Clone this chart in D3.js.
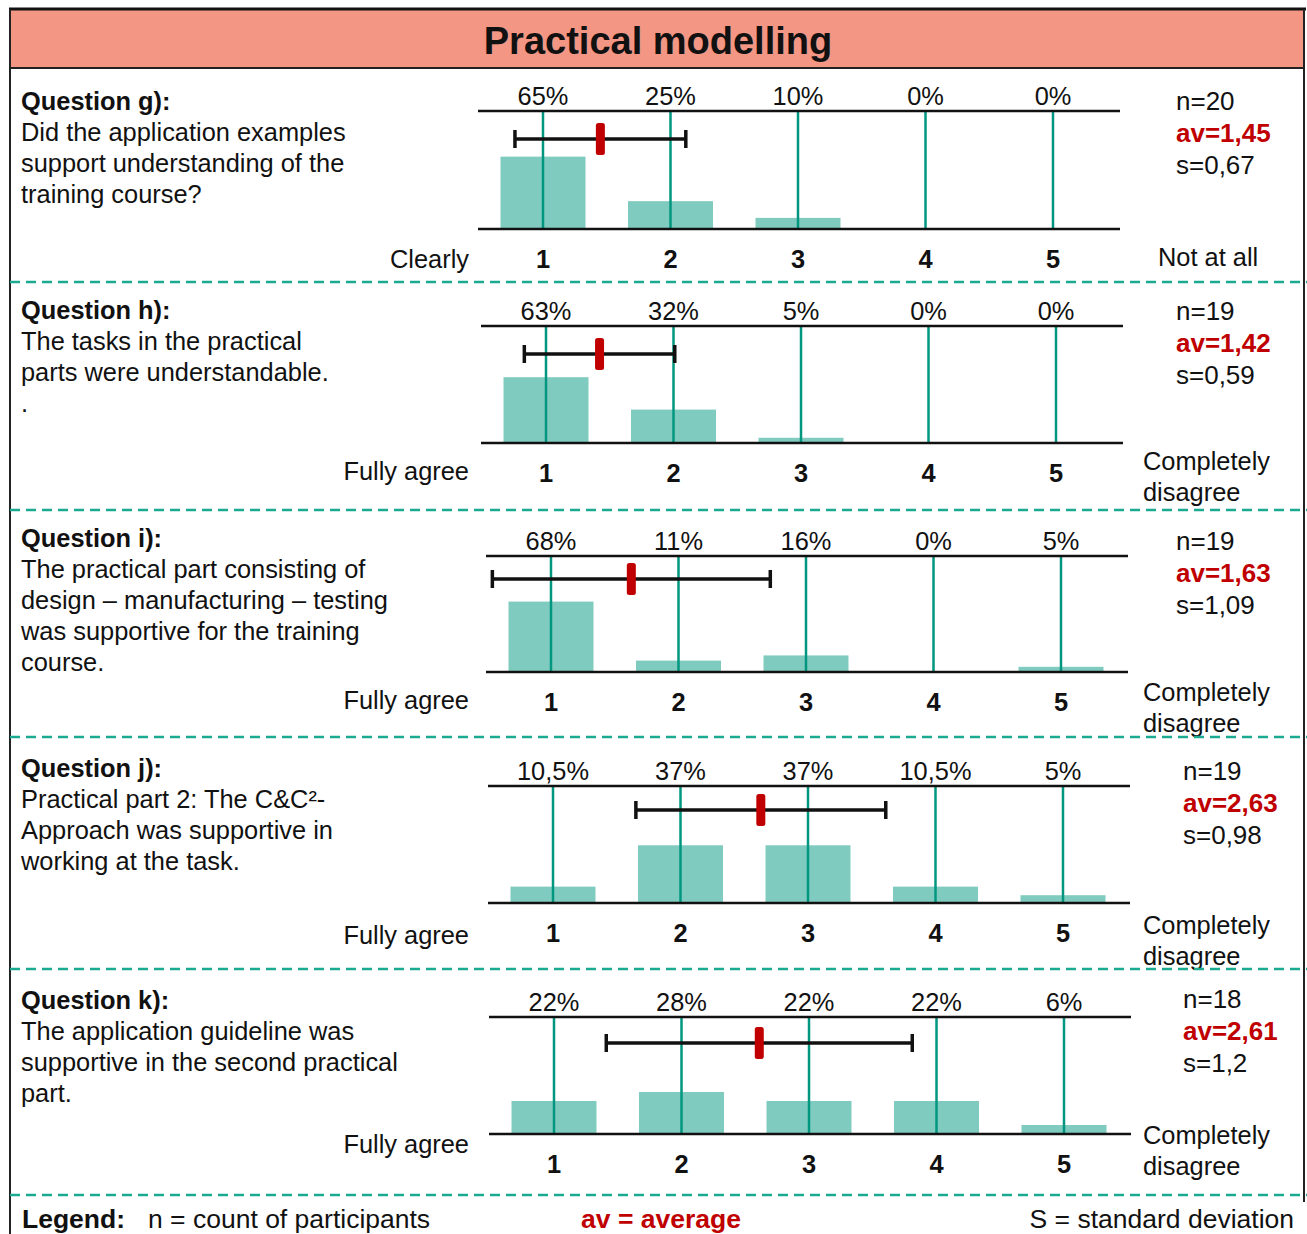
<!DOCTYPE html>
<html>
<head>
<meta charset="utf-8">
<script src="https://cdn.jsdelivr.net/npm/d3@7"></script>
<style>
  body { margin: 0; background: #fff; }
  text { font-family: "Liberation Sans", Arial, sans-serif; }
</style>
</head>
<body>
<div id="chart"></div>
<script>
// chart data
var title = "Practical modelling";
var categories = [1, 2, 3, 4, 5];
var questionTitles = ["Question g):", "Question h):", "Question i):", "Question j):", "Question k):"];
var questionLines = [
    ["Did the application examples", "support understanding of the", "training course?"],
    ["The tasks in the practical", "parts were understandable.", "."],
    ["The practical part consisting of", "design \u2013 manufacturing \u2013 testing", "was supportive for the training", "course."],
    ["Practical part 2: The C&C\u00b2-", "Approach was supportive in", "working at the task."],
    ["The application guideline was", "supportive in the second practical", "part."]
];
var percents = [
    [65, 25, 10, 0, 0],
    [63, 32, 5, 0, 0],
    [68, 11, 16, 0, 5],
    [10.5, 37, 37, 10.5, 5],
    [22, 28, 22, 22, 6]
];
var percentLabels = [
    ["65%", "25%", "10%", "0%", "0%"],
    ["63%", "32%", "5%", "0%", "0%"],
    ["68%", "11%", "16%", "0%", "5%"],
    ["10,5%", "37%", "37%", "10,5%", "5%"],
    ["22%", "28%", "22%", "22%", "6%"]
];
var counts = [20, 19, 19, 19, 18];
var averages = [1.45, 1.42, 1.63, 2.63, 2.61];
var deviations = [0.67, 0.59, 1.09, 0.98, 1.2];
var yMax = [106, 112, 112, 75, 78]; // percent at full bar height, per panel
var leftAnchors = ["Clearly", "Fully agree", "Fully agree", "Fully agree", "Fully agree"];
var rightAnchors = [["Not at all"], ["Completely", "disagree"], ["Completely", "disagree"], ["Completely", "disagree"], ["Completely", "disagree"]];
var legendItems = ["n = count of participants", "av = average", "S = standard deviation"];

// layout of each panel (pixel positions)
var layout = [
    { qY: 101, top: 111, bot: 229, x1: 543, ebY: 139, numY: 259, leftY: 259, statsX: 1176, statsY: 101, rightX: 1158, rightY: 257, sep: 282 },
    { qY: 310, top: 326, bot: 443, x1: 546, ebY: 354, numY: 473, leftY: 471, statsX: 1176, statsY: 311, rightX: 1143, rightY: 461, sep: 510 },
    { qY: 538, top: 556, bot: 672, x1: 551, ebY: 579, numY: 702, leftY: 700, statsX: 1176, statsY: 541, rightX: 1143, rightY: 692, sep: 737 },
    { qY: 768, top: 786, bot: 903, x1: 553, ebY: 810, numY: 933, leftY: 935, statsX: 1183, statsY: 771, rightX: 1143, rightY: 925, sep: 969 },
    { qY: 1000, top: 1017, bot: 1134, x1: 554, ebY: 1043, numY: 1164, leftY: 1144, statsX: 1183, statsY: 999, rightX: 1143, rightY: 1135, sep: 1195 }
];

var width = 1307, height = 1234;
var fs = 25.4;      // base font size
var base = 9;       // shift from visual centre to baseline
var step = 127.5;   // distance between categories
var barW = 85;

var svg = d3.select('#chart')
    .append('svg')
    .attr('width', width)
    .attr('height', height);

var comma = v => String(v).replace('.', ',');

// title band and frame
svg.append('rect')
    .attr('x', 10).attr('y', 9)
    .attr('width', 1294).attr('height', 59)
    .attr('fill', '#F39684');

svg.append('line')
    .attr('x1', 9).attr('x2', 1306).attr('y1', 9).attr('y2', 9)
    .attr('stroke', '#111').attr('stroke-width', 3);
svg.append('line')
    .attr('x1', 10).attr('x2', 1304).attr('y1', 68).attr('y2', 68)
    .attr('stroke', '#222').attr('stroke-width', 2);
svg.append('line')
    .attr('x1', 10).attr('x2', 10).attr('y1', 9).attr('y2', height)
    .attr('stroke', '#222').attr('stroke-width', 2);
svg.append('line')
    .attr('x1', 1304).attr('x2', 1304).attr('y1', 9).attr('y2', 1202)
    .attr('stroke', '#222').attr('stroke-width', 2);

svg.append('text')
    .attr('x', 658).attr('y', 41 + 13)
    .attr('text-anchor', 'middle')
    .style('font-size', '38px')
    .style('font-weight', 'bold')
    .style('fill', '#111')
    .text(title);

// one panel per question
layout.forEach(function (L, i) {
    var g = svg.append('g');

    var x = d3.scaleLinear()
        .domain([1, 5])
        .range([L.x1, L.x1 + 4 * step]);

    var y = d3.scaleLinear()
        .domain([0, yMax[i]])
        .range([L.bot, L.top]);

    // question text
    g.append('text')
        .attr('x', 21).attr('y', L.qY + base)
        .style('font-size', fs + 'px')
        .style('font-weight', 'bold')
        .style('fill', '#111')
        .text(questionTitles[i]);

    g.selectAll('.qline')
        .data(questionLines[i])
        .enter()
        .append('text')
        .attr('class', 'qline')
        .attr('x', 21)
        .attr('y', (d, k) => L.qY + 31 * (k + 1) + base)
        .style('font-size', fs + 'px')
        .style('fill', '#111')
        .text(d => d);

    // bars
    g.selectAll('.bar')
        .data(percents[i])
        .enter()
        .append('rect')
        .attr('class', 'bar')
        .attr('x', (d, k) => x(categories[k]) - barW / 2)
        .attr('width', barW)
        .attr('y', d => y(d))
        .attr('height', d => L.bot - y(d))
        .attr('fill', '#80CBC0');

    // vertical category lines
    g.selectAll('.vline')
        .data(categories)
        .enter()
        .append('line')
        .attr('class', 'vline')
        .attr('x1', d => x(d)).attr('x2', d => x(d))
        .attr('y1', L.top).attr('y2', L.bot)
        .attr('stroke', '#00967F')
        .attr('stroke-width', 2.5);

    // top and bottom lines
    [L.top, L.bot].forEach(function (yy) {
        g.append('line')
            .attr('x1', x(1) - 65).attr('x2', x(5) + 67)
            .attr('y1', yy).attr('y2', yy)
            .attr('stroke', '#111')
            .attr('stroke-width', 2.5);
    });

    // percent labels
    g.selectAll('.pct')
        .data(percentLabels[i])
        .enter()
        .append('text')
        .attr('class', 'pct')
        .attr('x', (d, k) => x(categories[k]))
        .attr('y', L.top - 15 + base)
        .attr('text-anchor', 'middle')
        .style('font-size', fs + 'px')
        .style('fill', '#111')
        .text(d => d);

    // category numbers
    g.selectAll('.num')
        .data(categories)
        .enter()
        .append('text')
        .attr('class', 'num')
        .attr('x', d => x(d))
        .attr('y', L.numY + base)
        .attr('text-anchor', 'middle')
        .style('font-size', fs + 'px')
        .style('font-weight', 'bold')
        .style('fill', '#111')
        .text(d => d);

    // scale end labels
    g.append('text')
        .attr('x', 469).attr('y', L.leftY + base)
        .attr('text-anchor', 'end')
        .style('font-size', fs + 'px')
        .style('fill', '#111')
        .text(leftAnchors[i]);

    g.selectAll('.ranchor')
        .data(rightAnchors[i])
        .enter()
        .append('text')
        .attr('class', 'ranchor')
        .attr('x', L.rightX)
        .attr('y', (d, k) => L.rightY + 31 * k + base)
        .style('font-size', fs + 'px')
        .style('fill', '#111')
        .text(d => d);

    // average +/- standard deviation
    var lo = averages[i] - deviations[i];
    var hi = averages[i] + deviations[i];
    g.append('line')
        .attr('x1', x(lo)).attr('x2', x(hi))
        .attr('y1', L.ebY).attr('y2', L.ebY)
        .attr('stroke', '#111').attr('stroke-width', 3.5);
    [lo, hi].forEach(function (v) {
        g.append('line')
            .attr('x1', x(v)).attr('x2', x(v))
            .attr('y1', L.ebY - 9).attr('y2', L.ebY + 9)
            .attr('stroke', '#111').attr('stroke-width', 3.5);
    });
    g.append('rect')
        .attr('x', x(averages[i]) - 4.5)
        .attr('y', L.ebY - 16)
        .attr('width', 9).attr('height', 32)
        .attr('rx', 2.5)
        .attr('fill', '#C00000');

    // statistics
    var stats = [
        { t: 'n=' + counts[i], c: '#111', w: 'normal' },
        { t: 'av=' + comma(averages[i]), c: '#C00000', w: 'bold' },
        { t: 's=' + comma(deviations[i]), c: '#111', w: 'normal' }
    ];
    g.selectAll('.stat')
        .data(stats)
        .enter()
        .append('text')
        .attr('class', 'stat')
        .attr('x', L.statsX)
        .attr('y', (d, k) => L.statsY + 32 * k + base)
        .style('font-size', '26px')
        .style('font-weight', d => d.w)
        .style('fill', d => d.c)
        .text(d => d.t);

    // dashed separator
    g.append('line')
        .attr('x1', 10).attr('x2', 1307)
        .attr('y1', L.sep).attr('y2', L.sep)
        .attr('stroke', '#1AAA8F')
        .attr('stroke-width', 2.5)
        .attr('stroke-dasharray', '10,6');
});

// legend row
var ly = 1219 + base;
svg.append('text')
    .attr('x', 22).attr('y', ly)
    .style('font-size', '26.5px')
    .style('font-weight', 'bold')
    .style('fill', '#111')
    .text('Legend:');
svg.append('text')
    .attr('x', 148).attr('y', ly)
    .style('font-size', '26.5px')
    .style('fill', '#111')
    .text(legendItems[0]);
svg.append('text')
    .attr('x', 661).attr('y', ly)
    .attr('text-anchor', 'middle')
    .style('font-size', '26.5px')
    .style('font-weight', 'bold')
    .style('fill', '#C00000')
    .text(legendItems[1]);
svg.append('text')
    .attr('x', 1294).attr('y', ly)
    .attr('text-anchor', 'end')
    .style('font-size', '26.5px')
    .style('fill', '#111')
    .text(legendItems[2]);
</script>
</body>
</html>
